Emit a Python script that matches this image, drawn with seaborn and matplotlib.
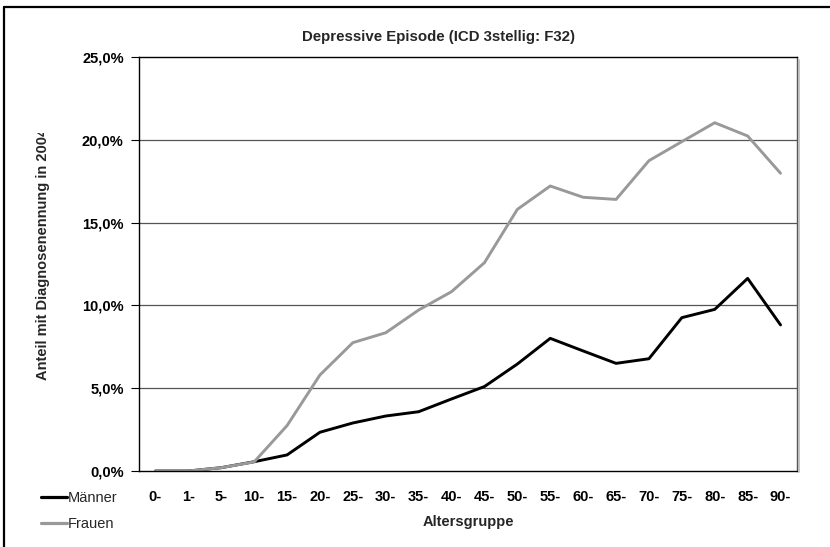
import matplotlib
matplotlib.use('Agg')
import matplotlib.pyplot as plt
import matplotlib.lines as mlines
import matplotlib.patches as patches
from matplotlib.ticker import FuncFormatter
import seaborn as sns
import pandas as pd

# Altersgruppen und Anteile (in %)
age_groups = ['0-', '1-', '5-', '10-', '15-', '20-', '25-', '30-', '35-', '40-',
              '45-', '50-', '55-', '60-', '65-', '70-', '75-', '80-', '85-', '90-']
maenner = [0.0, 0.0, 0.2, 0.56, 0.97, 2.34, 2.9, 3.32, 3.58, 4.35,
           5.1, 6.46, 8.01, 7.25, 6.5, 6.78, 9.26, 9.76, 11.63, 8.82]
frauen = [0.0, 0.0, 0.2, 0.55, 2.74, 5.8, 7.75, 8.35, 9.72, 10.83,
          12.58, 15.8, 17.21, 16.53, 16.4, 18.74, 19.89, 21.03, 20.23, 17.98]

df = pd.DataFrame({
    'Altersgruppe': age_groups * 2,
    'Anteil': maenner + frauen,
    'Geschlecht': ['Männer'] * len(age_groups) + ['Frauen'] * len(age_groups),
})

sns.set_theme(style='white')
plt.rcParams['font.family'] = ['Liberation Sans', 'DejaVu Sans']

W, H = 830, 547
FS = 10.5
fig = plt.figure(figsize=(W / 100, H / 100), dpi=100, facecolor='white')
ax = fig.add_axes([139 / W, 1 - 471 / H, 658 / W, 414 / H])

sns.lineplot(data=df, x='Altersgruppe', y='Anteil', hue='Geschlecht', sort=False,
             palette={'Männer': '#000000', 'Frauen': '#999999'}, linewidth=2.1,
             ax=ax, legend=False)

ax.set_xlim(-0.5, len(age_groups) - 0.5)
ax.set_ylim(0, 25)
ax.set_yticks([0, 5, 10, 15, 20, 25])
ax.yaxis.set_major_formatter(FuncFormatter(lambda v, p: f'{v:.1f}'.replace('.', ',') + '%'))
ax.set_xticks(range(len(age_groups)))
ax.set_xticklabels(age_groups)
ax.tick_params(axis='y', length=6, width=0.8, color='black', pad=5, labelsize=FS, left=True)
ax.tick_params(axis='x', length=0, pad=14, labelsize=FS)
for lab in ax.get_xticklabels() + ax.get_yticklabels():
    lab.set_fontweight('bold')
    lab.set_color('black')

for y in [5, 10, 15, 20]:
    ax.axhline(y, color='#555555', lw=0.9, zorder=0)

for side in ['left', 'bottom', 'top']:
    ax.spines[side].set_color('black')
    ax.spines[side].set_linewidth(1.0)
ax.spines['right'].set_color('#555555')
ax.spines['right'].set_linewidth(1.0)

ax.set_xlabel('')
ax.set_ylabel('')

# shadow of the plot area
fig.add_artist(mlines.Line2D([798.5 / W, 798.5 / W], [1 - 60 / H, 1 - 472 / H],
                             color='#bbbbbb', lw=1.2))

fig.text(438 / W, 1 - 37 / H, 'Depressive Episode (ICD 3stellig: F32)',
         ha='center', va='center', fontsize=10.8, fontweight='bold')
fig.text(468 / W, 1 - 522 / H, 'Altersgruppe', ha='center', va='center',
         fontsize=FS, fontweight='bold')

fig.text(43 / W, 1 - 380 / H, 'Anteil mit Diagnosenennung in 2004',
         rotation=90, ha='center', va='bottom', fontsize=FS, fontweight='bold')
# the label box cuts off the end of the text
fig.add_artist(patches.Rectangle((28 / W, 1 - 133 / H), 30 / W, 60 / H,
                                 transform=fig.transFigure, facecolor='white',
                                 edgecolor='none', zorder=5))

# legend
handles = [mlines.Line2D([], [], color='#000000', lw=2.3),
           mlines.Line2D([], [], color='#999999', lw=2.3)]
fig.legend(handles, ['Männer', 'Frauen'], loc='upper left',
           bbox_to_anchor=(41 / W, 1 - 491 / H), frameon=False, fontsize=FS,
           handlelength=1.8, handletextpad=0.05, labelspacing=0.85, borderpad=0,
           borderaxespad=0)

# outer frame (cropped)
fig.add_artist(mlines.Line2D([4 / W, 1], [1 - 6.5 / H, 1 - 6.5 / H], color='black', lw=1.6))
fig.add_artist(mlines.Line2D([4 / W, 4 / W], [1 - 6.5 / H, 0], color='black', lw=1.6))

fig.savefig('out.png', dpi=100, facecolor='white')
